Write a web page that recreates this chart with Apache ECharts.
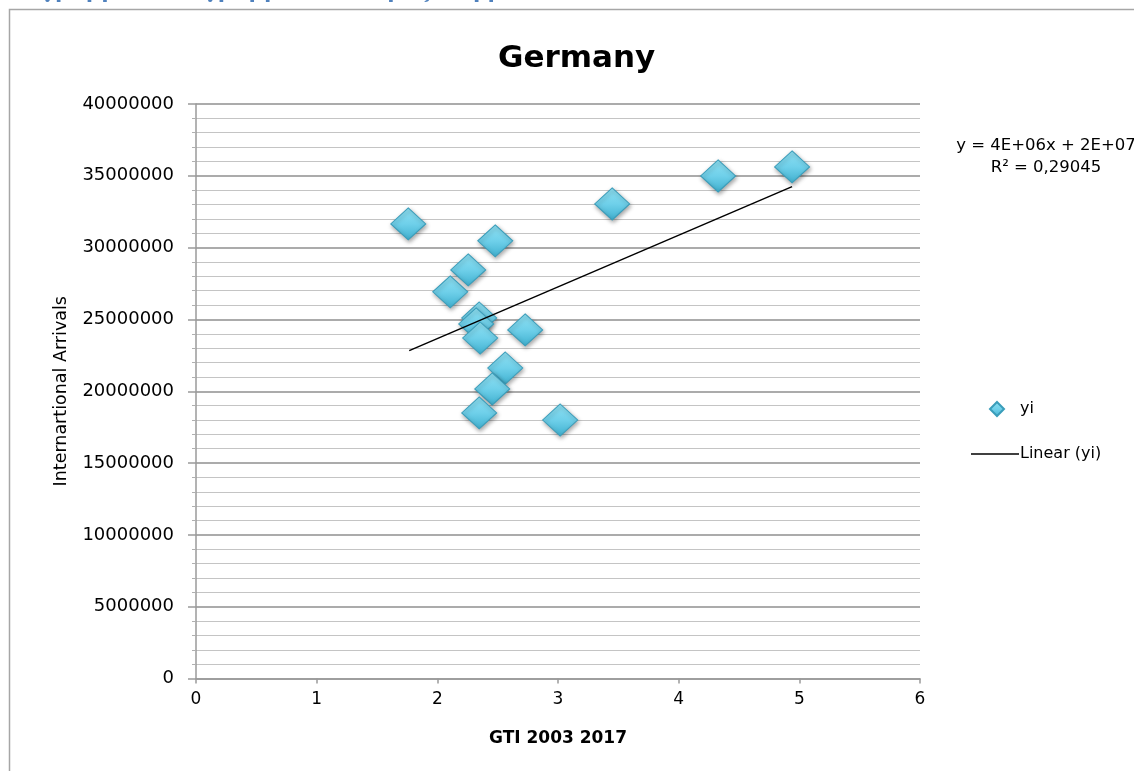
<!DOCTYPE html>
<html>
<head>
<meta charset="utf-8">
<script src="https://cdn.jsdelivr.net/npm/echarts@6/dist/echarts.min.js"></script>
<style>html,body{margin:0;padding:0;background:#fff;}#c{width:1134px;height:771px;}</style>
</head>
<body>
<div id="c"></div>
<script>
// Data
const gtiValues = [1.759, 2.480, 2.256, 2.107, 2.347, 2.322, 2.728, 2.355, 2.563, 2.455, 2.347, 3.018, 3.449, 4.327, 4.940];
const arrivalValues = [31650000, 30470000, 28450000, 26920000, 25100000, 24690000, 24270000, 23710000, 21620000, 20160000, 18490000, 18000000, 33040000, 34990000, 35620000];
const trendX = [1.767, 4.940];
const trendY = [22830000, 34250000];
const xTicks = [0, 1, 2, 3, 4, 5, 6];
const yTicks = [0, 5000000, 10000000, 15000000, 20000000, 25000000, 30000000, 35000000, 40000000];
const titleText = 'Germany';
const headerText = 'Διάγραμμα 9 Διάγραμμα διασποράς: Γερμανία';
const xName = 'GTI 2003 2017';
const yName = 'Internartional Arrivals';
const equationLines = ['y = 4E+06x + 2E+07', 'R² = 0,29045'];
const seriesName = 'yi';
const trendName = 'Linear (yi)';

const scatterData = gtiValues.map((x, i) => [x, arrivalValues[i]]);
const trendData = trendX.map((x, i) => [x, trendY[i]]);

const FONT = '"DejaVu Sans", Verdana, sans-serif';
const chart = echarts.init(document.getElementById('c'), null, {renderer: 'canvas'});

const diamondColor = new echarts.graphic.LinearGradient(0, 0, 0, 1, [
  {offset: 0, color: '#8fe0f2'},
  {offset: 0.5, color: '#6fd0ea'},
  {offset: 1, color: '#3fb0cf'}
]);

chart.setOption({
  backgroundColor: '#ffffff',
  animation: false,
  title: {
    text: titleText,
    left: 493,
    top: 38,
    textStyle: {fontFamily: FONT, fontSize: 31, fontWeight: 'bold', color: '#000'}
  },
  grid: {left: 196, right: 214, top: 104, bottom: 92.5, containLabel: false},
  xAxis: {
    type: 'value',
    min: xTicks[0],
    max: xTicks[xTicks.length - 1],
    interval: 1,
    name: xName,
    nameLocation: 'middle',
    nameGap: 52,
    nameTextStyle: {fontFamily: FONT, fontSize: 17, fontWeight: 'bold', color: '#000'},
    axisLine: {show: true, lineStyle: {color: '#9a9a9a', width: 1.5}},
    axisTick: {show: true, length: 5, lineStyle: {color: '#9a9a9a', width: 1.5}},
    axisLabel: {fontFamily: FONT, fontSize: 17, color: '#000', margin: 13},
    splitLine: {show: false}
  },
  yAxis: {
    type: 'value',
    min: yTicks[0],
    max: yTicks[yTicks.length - 1],
    interval: 5000000,
    name: yName,
    nameLocation: 'middle',
    nameRotate: 90,
    nameGap: 126,
    nameTextStyle: {fontFamily: FONT, fontSize: 17.5, color: '#000'},
    axisLine: {show: true, lineStyle: {color: '#9a9a9a', width: 1.5}},
    axisTick: {show: true, length: 8, lineStyle: {color: '#9a9a9a', width: 1.5}},
    minorTick: {show: true, splitNumber: 5, length: 4, lineStyle: {color: '#b0b0b0', width: 1}},
    axisLabel: {fontFamily: FONT, fontSize: 18, color: '#000', margin: 22, formatter: v => String(v)},
    splitLine: {show: true, lineStyle: {color: '#8f8f8f', width: 1.6}},
    minorSplitLine: {show: true, lineStyle: {color: '#c4c4c4', width: 1.2}}
  },
  legend: [
    {
      data: [{name: seriesName, icon: 'diamond'}],
      left: 984, top: 396,
      itemWidth: 14, itemHeight: 14,
      textStyle: {fontFamily: FONT, fontSize: 16, color: '#000', padding: [0, 0, 0, 11]}
    },
    {
      data: [{name: trendName, icon: 'rect'}],
      left: 966, top: 441,
      itemWidth: 48, itemHeight: 1.5,
      itemStyle: {color: '#000'},
      textStyle: {fontFamily: FONT, fontSize: 16, color: '#000', padding: [0, 0, 0, -4]}
    }
  ],
  series: [
    {
      name: seriesName,
      type: 'scatter',
      symbol: 'diamond',
      symbolSize: [35, 32],
      data: scatterData,
      itemStyle: {
        color: diamondColor,
        borderColor: '#3a9dba',
        borderWidth: 1,
        shadowColor: 'rgba(0,0,0,0.35)',
        shadowBlur: 4,
        shadowOffsetY: 2,
        shadowOffsetX: 1,
        opacity: 1
      },
      z: 3
    },
    {
      name: trendName,
      type: 'line',
      data: trendData,
      symbol: 'none',
      lineStyle: {color: '#000', width: 1.5},
      itemStyle: {color: '#000'},
      z: 4
    }
  ],
  graphic: [
    {
      type: 'rect',
      shape: {x: 9.5, y: 9.5, width: 1300, height: 900},
      style: {fill: null, stroke: '#a6a6a6', lineWidth: 1.5},
      silent: true, z: 0
    },
    {
      type: 'text',
      x: -1, y: -7,
      style: {text: headerText, fontFamily: '"DejaVu Serif", serif', fontSize: 21, fontWeight: 'bold', fill: '#4f81bd', verticalAlign: 'middle'}
    },
    {
      type: 'text',
      x: 1046, y: 146,
      style: {text: equationLines[0], fontFamily: FONT, fontSize: 16.5, fill: '#000', align: 'center', verticalAlign: 'middle'}
    },
    {
      type: 'text',
      x: 1046, y: 168,
      style: {text: equationLines[1], fontFamily: FONT, fontSize: 16.5, fill: '#000', align: 'center', verticalAlign: 'middle'}
    }
  ]
});
</script>
</body>
</html>
